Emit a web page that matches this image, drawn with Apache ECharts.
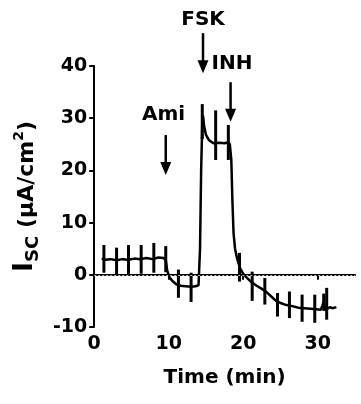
<!DOCTYPE html>
<html>
<head>
<meta charset="utf-8">
<script src="https://cdn.jsdelivr.net/npm/echarts@6/dist/echarts.min.js"></script>
<style>
  html, body { margin: 0; padding: 0; background: #fff; }
  #chart { width: 361px; height: 404px; }
</style>
</head>
<body>
<div id="chart"></div>
<script>
// trace: time (min), Isc (uA/cm2)
var traceT = [1.0, 1.5, 2.2, 3.0, 3.8, 4.6, 5.4, 6.2, 7.0, 7.8, 8.6, 9.3, 9.6,
  9.8, 10.1, 10.5, 11.0, 11.6, 12.3, 13.0, 13.6, 14.0,
  14.2, 14.35, 14.5, 14.6, 14.75, 15.0, 15.4, 16.0, 16.8, 17.5, 18.0, 18.2,
  18.4, 18.55, 18.7, 18.9, 19.2, 19.6, 20.0, 20.5, 21.1, 21.8, 22.5, 23.2, 23.8,
  24.4, 25.0, 25.8, 26.6, 27.4, 28.2, 29.0, 29.8, 30.4, 30.6, 30.8, 31.0, 31.2,
  31.6, 32.0, 32.5];
var traceV = [3.1, 2.9, 3.0, 2.8, 3.0, 2.9, 3.1, 3.0, 3.2, 3.0, 3.3, 3.2, 2.8,
  0.8, -0.5, -1.2, -1.8, -2.1, -2.2, -2.3, -2.2, -2.0,
  5, 20, 29, 30.5, 28.5, 26.8, 25.8, 25.2, 25.3, 25.2, 25.4, 25.0,
  22, 14, 8, 5.0, 3.0, 1.2, 0.2, -0.6, -1.4, -2.1, -2.7, -3.4, -4.2,
  -5.0, -5.4, -5.8, -6.0, -6.3, -6.4, -6.5, -6.6, -6.7, -6.0, -5.2, -6.8, -6.6,
  -6.2, -6.4, -6.2];

// error bars: time, low, high
var errT = [1.3, 3.0, 4.6, 6.3, 8.0, 9.6, 11.3, 13.0, 14.5, 16.3, 18.0, 19.5, 21.2, 22.9, 24.6, 26.2, 27.9, 29.6, 30.8, 31.2];
var errLow = [0.4, 0.0, 0.0, 0.2, 0.4, 0.5, -4.4, -5.2, 26.0, 22.0, 22.0, -1.3, -5.0, -5.7, -8.0, -8.3, -9.0, -9.2, -6.9, -8.6];
var errHigh = [5.7, 5.2, 5.7, 5.7, 6.1, 5.5, 1.0, 0.4, 32.7, 31.5, 28.7, 4.2, 0.6, -0.6, -3.5, -3.2, -3.8, -3.8, -3.6, -2.5];

// drug additions
var arrowNames = ['Ami', 'FSK', 'INH'];
var arrowT = [9.6, 14.6, 18.3];
var arrowTop = [26.8, 46.3, 36.9];
var arrowTip = [19.1, 38.6, 29.3];
var labelT = [9.3, 14.6, 18.5];
var labelV = [30.6, 48.9, 40.4];

var xTicks = [0, 10, 20, 30];

var font = 'DejaVu Sans';

var trace = traceT.map(function (t, i) { return [t, traceV[i]]; });
var errData = errT.map(function (t, i) { return [t, errLow[i], errHigh[i]]; });
var arrowData = arrowT.map(function (t, i) { return [t, arrowTop[i], arrowTip[i], labelT[i], labelV[i]]; });

var option = {
  animation: false,
  grid: { left: 89, right: 6, top: 66, bottom: 77 },
  xAxis: {
    type: 'value',
    min: 0,
    max: 35,
    interval: 10,
    name: 'Time (min)',
    nameLocation: 'middle',
    nameGap: 41,
    nameTextStyle: { fontFamily: font, fontWeight: 'bold', fontSize: 20, color: '#000' },
    axisLine: { lineStyle: { color: '#000', width: 2 } },
    axisTick: { length: 5, lineStyle: { color: '#000', width: 2 }, customValues: xTicks },
    axisLabel: { fontFamily: font, fontWeight: 'bold', fontSize: 19, color: '#000', margin: 8, customValues: xTicks },
    splitLine: { show: false }
  },
  yAxis: {
    type: 'value',
    min: -10,
    max: 40,
    interval: 10,
    name: '{i|I}{s|SC}{n| (μA/cm}{p|2}{n|)}',
    nameLocation: 'middle',
    nameRotate: 90,
    nameGap: 50,
    nameTextStyle: {
      color: '#000',
      rich: {
        i: { fontFamily: font, fontWeight: 'bold', fontSize: 27, color: '#000', verticalAlign: 'bottom', lineHeight: 30 },
        s: { fontFamily: font, fontWeight: 'bold', fontSize: 18, color: '#000', verticalAlign: 'bottom', lineHeight: 30, padding: [0, 0, -4, 0] },
        n: { fontFamily: font, fontWeight: 'bold', fontSize: 22, color: '#000', verticalAlign: 'bottom', lineHeight: 30 },
        p: { fontFamily: font, fontWeight: 'bold', fontSize: 14, color: '#000', verticalAlign: 'top', lineHeight: 30, padding: [4, 0, 0, 0] }
      }
    },
    axisLine: { show: true, lineStyle: { color: '#000', width: 2 } },
    axisTick: { show: true, length: 5, lineStyle: { color: '#000', width: 2 } },
    axisLabel: { fontFamily: font, fontWeight: 'bold', fontSize: 19, color: '#000', margin: 7 },
    splitLine: { show: false }
  },
  series: [
    {
      type: 'line',
      data: trace,
      showSymbol: false,
      lineStyle: { color: '#000', width: 2.5 },
      markLine: {
        silent: true,
        symbol: ['none', 'none'],
        label: { show: false },
        lineStyle: { color: '#bbb', type: [2, 2], width: 1 },
        data: [{ yAxis: 0 }]
      },
      z: 3
    },
    {
      type: 'custom',
      data: errData,
      encode: { x: 0, y: [1, 2] },
      renderItem: function (params, api) {
        var p1 = api.coord([api.value(0), api.value(1)]);
        var p2 = api.coord([api.value(0), api.value(2)]);
        return {
          type: 'line',
          shape: { x1: p1[0], y1: p1[1], x2: p2[0], y2: p2[1] },
          style: { stroke: '#000', lineWidth: 3 }
        };
      },
      z: 4
    },
    {
      type: 'custom',
      data: arrowData,
      clip: false,
      encode: { x: 0, y: [1, 2] },
      renderItem: function (params, api) {
        var top = api.coord([api.value(0), api.value(1)]);
        var tip = api.coord([api.value(0), api.value(2)]);
        var lp = api.coord([api.value(3), api.value(4)]);
        var head = 13, hw = 5.5;
        return {
          type: 'group',
          children: [
            {
              type: 'line',
              shape: { x1: top[0], y1: top[1], x2: tip[0], y2: tip[1] - head + 1 },
              style: { stroke: '#000', lineWidth: 2.5 }
            },
            {
              type: 'polygon',
              shape: { points: [[tip[0] - hw, tip[1] - head], [tip[0] + hw, tip[1] - head], [tip[0], tip[1]]] },
              style: { fill: '#000' }
            },
            {
              type: 'text',
              x: lp[0],
              y: lp[1],
              style: {
                text: arrowNames[params.dataIndex],
                font: 'bold 20px ' + font,
                fill: '#000',
                textAlign: 'center',
                textVerticalAlign: 'middle',
                align: 'center',
                verticalAlign: 'middle'
              }
            }
          ]
        };
      },
      z: 5
    }
  ]
};

var myChart = echarts.init(document.getElementById('chart'));
myChart.setOption(option);
</script>
</body>
</html>
